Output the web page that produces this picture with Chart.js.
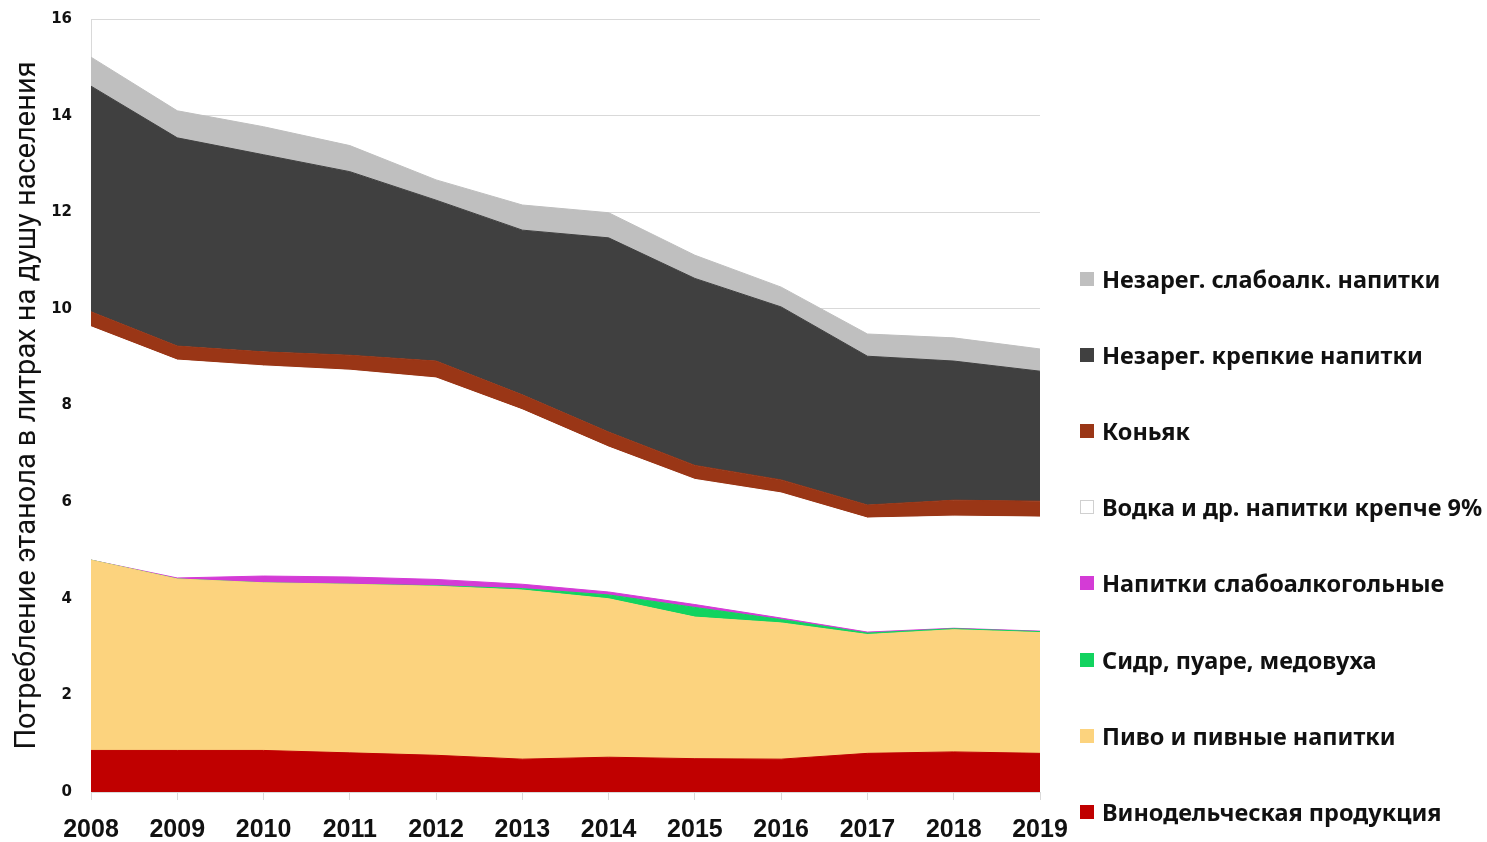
<!DOCTYPE html>
<html lang="ru">
<head>
<meta charset="utf-8">
<script src="https://cdn.jsdelivr.net/npm/chart.js@4"></script>
<style>
  body { margin: 0; background: #fff; }
  #wrap { position: relative; width: 1487px; height: 842px; }
  #legend { position: absolute; left: 1080px; top: 0; }
  .item { position: absolute; left: 0; white-space: nowrap; display: flex; align-items: center;
          font-family: "Noto Sans", sans-serif; font-weight: bold; font-size: 23.5px; color: #111; }
  .box { width: 14px; height: 14px; margin-right: 8px; box-sizing: border-box; }
</style>
</head>
<body>
<div id="wrap">
  <canvas id="chart" width="1487" height="842"></canvas>
  <div id="legend"></div>
</div>
<script>
const years = ['2008','2009','2010','2011','2012','2013','2014','2015','2016','2017','2018','2019'];

// литры этанола на душу населения, снизу вверх
const wine      = [0.86, 0.86, 0.86, 0.81, 0.76, 0.68, 0.72, 0.69, 0.68, 0.80, 0.83, 0.80];
const beer      = [3.94, 3.55, 3.47, 3.49, 3.50, 3.50, 3.28, 2.93, 2.82, 2.46, 2.53, 2.50];
const cider     = [0.00, 0.00, 0.00, 0.00, 0.01, 0.03, 0.08, 0.20, 0.07, 0.03, 0.02, 0.02];
const lowAlc    = [0.00, 0.02, 0.14, 0.15, 0.13, 0.09, 0.06, 0.06, 0.03, 0.02, 0.01, 0.01];
const vodka     = [4.83, 4.51, 4.35, 4.28, 4.17, 3.61, 3.00, 2.59, 2.59, 2.36, 2.32, 2.36];
const cognac    = [0.31, 0.29, 0.29, 0.31, 0.35, 0.31, 0.31, 0.29, 0.27, 0.27, 0.33, 0.33];
const unregHard = [4.67, 4.31, 4.08, 3.80, 3.33, 3.41, 4.02, 3.87, 3.58, 3.08, 2.88, 2.69];
const unregLow  = [0.60, 0.56, 0.58, 0.54, 0.42, 0.52, 0.52, 0.48, 0.41, 0.46, 0.48, 0.46];

const yTicks = [0, 2, 4, 6, 8, 10, 12, 14, 16];

const series = [
  { label: 'Винодельческая продукция', data: wine, color: '#C00000' },
  { label: 'Пиво и пивные напитки', data: beer, color: '#FCD37E' },
  { label: 'Сидр, пуаре, медовуха', data: cider, color: '#12D35F' },
  { label: 'Напитки слабоалкогольные', data: lowAlc, color: '#D43BD6' },
  { label: 'Водка и др. напитки крепче 9%', data: vodka, color: '#FFFFFF' },
  { label: 'Коньяк', data: cognac, color: '#9A3616' },
  { label: 'Незарег. крепкие напитки', data: unregHard, color: '#404040' },
  { label: 'Незарег. слабоалк. напитки', data: unregLow, color: '#BFBFBF' }
];

const datasets = series.map((s, i) => ({
  label: s.label,
  data: s.data,
  backgroundColor: s.color,
  borderColor: s.color,
  borderWidth: 1,
  pointRadius: 0,
  tension: 0,
  fill: i === 0 ? 'origin' : '-1'
}));

const ctx = document.getElementById('chart').getContext('2d');

new Chart(ctx, {
  type: 'line',
  data: { labels: years, datasets: datasets },
  options: {
    responsive: false,
    animation: false,
    layout: { padding: { top: 19, right: 447, bottom: 0, left: 0 } },
    plugins: { legend: { display: false }, tooltip: { enabled: false } },
    scales: {
      x: {
        offset: false,
        grid: { display: true, drawOnChartArea: false, tickLength: 8, color: '#D9D9D9' },
        border: { color: '#D9D9D9' },
        ticks: {
          color: '#111',
          padding: 15,
          maxRotation: 0,
          font: { family: 'Liberation Sans', weight: 'bold', size: 25 }
        },
        afterFit: s => { s.height = 50; }
      },
      y: {
        stacked: true,
        min: 0,
        max: 16,
        afterBuildTicks: s => { s.ticks = yTicks.map(v => ({ value: v })); },
        grid: { color: '#D9D9D9', drawTicks: false },
        border: { color: '#D9D9D9' },
        ticks: {
          color: '#111',
          padding: 19,
          font: { family: 'DejaVu Sans', weight: 'bold', size: 15 }
        },
        title: {
          display: true,
          text: 'Потребление этанола в литрах на душу населения',
          color: '#111',
          padding: { top: 10, bottom: 0 },
          font: { family: 'Roboto', size: 29 }
        },
        afterFit: s => { s.width = 91; s.paddingTop = 0; s.paddingBottom = 0; }
      }
    }
  }
});

// легенда справа, в обратном порядке
const legend = document.getElementById('legend');
series.slice().reverse().forEach((s, i) => {
  const item = document.createElement('div');
  item.className = 'item';
  item.style.top = (279 + i * 76.1 - 16) + 'px';
  item.style.height = '32px';
  const box = document.createElement('span');
  box.className = 'box';
  box.style.background = s.color;
  if (s.color === '#FFFFFF') box.style.border = '1px solid #D0D0D0';
  item.appendChild(box);
  item.appendChild(document.createTextNode(s.label));
  legend.appendChild(item);
});
</script>
</body>
</html>
